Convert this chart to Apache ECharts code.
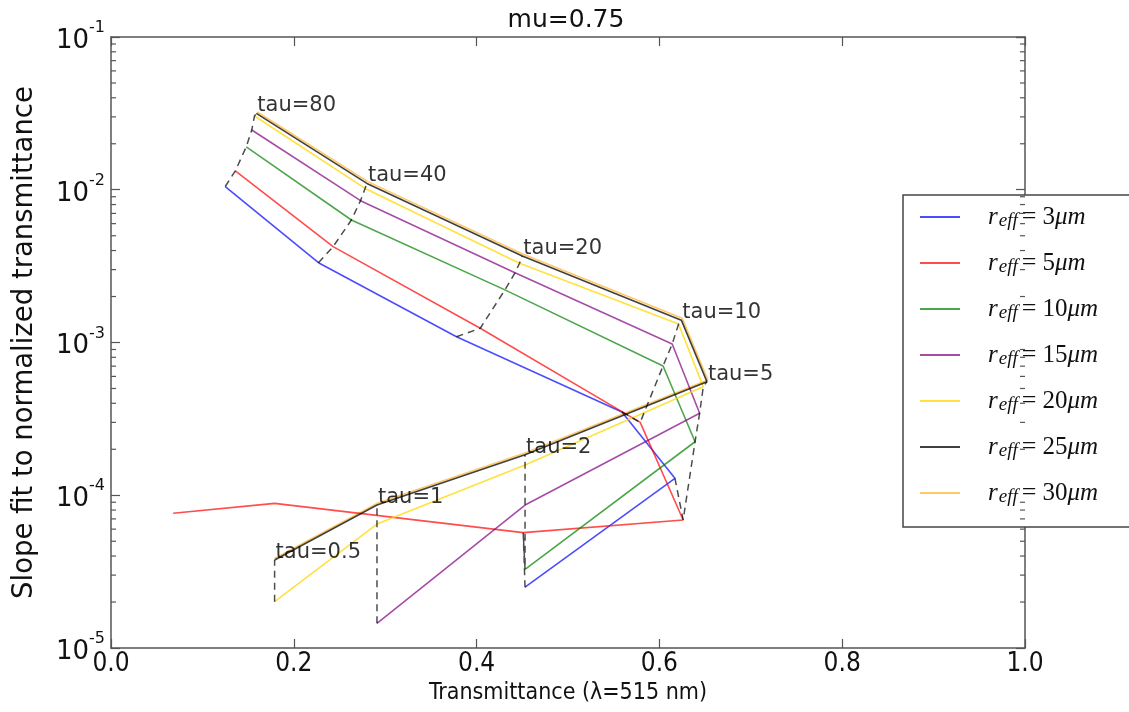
<!DOCTYPE html>
<html>
<head>
<meta charset="utf-8">
<script src="https://cdn.jsdelivr.net/npm/echarts@6/dist/echarts.min.js"></script>
<style>html,body{margin:0;padding:0;background:#fff}#c{width:1129px;height:712px}</style>
</head>
<body>
<div id="c"></div>
<script>
// ---- data ----
const titleText = 'mu=0.75';
const xName = 'Transmittance (\u03bb=515 nm)';
const yName = 'Slope fit to normalized transmittance';
const reffNames = ['3', '5', '10', '15', '20', '25', '30'];
const tauLevels = [0.5, 1, 2, 5, 10, 20, 40, 80];

const tau3 = [2, 5, 10, 20, 40, 80];
const x3 = [0.453, 0.617, 0.559, 0.378, 0.227, 0.125];
const y3 = [2.50e-5, 1.29e-4, 3.51e-4, 1.09e-3, 3.33e-3, 1.05e-2];

const tau5 = [null, null, 2, 5, 10, 20, 40, 80];
const x5 = [0.068, 0.179, 0.451, 0.626, 0.579, 0.404, 0.243, 0.136];
const y5 = [7.62e-5, 8.85e-5, 5.69e-5, 6.89e-5, 3.00e-4, 1.24e-3, 4.24e-3, 1.33e-2];

const tau10 = [2, 5, 10, 20, 40, 80];
const x10 = [0.453, 0.639, 0.604, 0.431, 0.263, 0.148];
const y10 = [3.27e-5, 2.24e-4, 7.02e-4, 2.21e-3, 6.34e-3, 1.91e-2];

const tau15 = [1, 2, 5, 10, 20, 40, 80];
const x15 = [0.291, 0.453, 0.644, 0.614, 0.442, 0.273, 0.154];
const y15 = [1.45e-5, 8.63e-5, 3.44e-4, 9.77e-4, 2.86e-3, 8.48e-3, 2.46e-2];

const tau20 = [0.5, 1, 2, 5, 10, 20, 40, 80];
const x20 = [0.179, 0.291, 0.453, 0.648, 0.621, 0.447, 0.278, 0.157];
const y20 = [2.01e-5, 6.48e-5, 1.58e-4, 5.14e-4, 1.32e-3, 3.30e-3, 1.02e-2, 3.04e-2];

const tau25 = [0.5, 1, 2, 5, 10, 20, 40, 80];
const x25 = [0.179, 0.291, 0.453, 0.652, 0.624, 0.450, 0.280, 0.159];
const y25 = [3.77e-5, 8.63e-5, 1.84e-4, 5.54e-4, 1.40e-3, 3.68e-3, 1.10e-2, 3.16e-2];

const tau30 = [0.5, 1, 2, 5, 10, 20, 40, 80];
const x30 = [0.179, 0.291, 0.453, 0.653, 0.625, 0.451, 0.281, 0.160];
const y30 = [3.85e-5, 8.85e-5, 1.89e-4, 5.68e-4, 1.44e-3, 3.78e-3, 1.13e-2, 3.23e-2];

const minorMultipliers = [2, 3, 4, 5, 6, 7, 8, 9];
const minorDecades = [1e-5, 1e-4, 1e-3, 1e-2];

// ---- styling ----
const colors = ['rgba(0,0,255,0.7)', 'rgba(255,0,0,0.7)', 'rgba(0,128,0,0.7)', 'rgba(128,0,128,0.7)',
                'rgba(255,215,0,0.75)', 'rgba(0,0,0,0.75)', 'rgba(255,165,0,0.6)'];
const frameColor = '#555';

const curves = [
  {tau: tau3, x: x3, y: y3},
  {tau: tau5, x: x5, y: y5},
  {tau: tau10, x: x10, y: y10},
  {tau: tau15, x: x15, y: y15},
  {tau: tau20, x: x20, y: y20},
  {tau: tau25, x: x25, y: y25},
  {tau: tau30, x: x30, y: y30}
];

const series = [];
curves.forEach((c, i) => {
  series.push({
    name: reffNames[i],
    type: 'line',
    data: c.x.map((xv, j) => [xv, c.y[j]]),
    showSymbol: false,
    symbol: 'none',
    lineStyle: {color: colors[i], width: 1.6},
    itemStyle: {color: colors[i]},
    z: i === 6 ? 1 : 2 + i,
    animation: false
  });
});

// dashed iso-tau lines joining curves (3..25 um)
tauLevels.forEach(t => {
  const pts = [];
  for (let i = 0; i < 6; i++) {
    const k = curves[i].tau.indexOf(t);
    if (k >= 0) pts.push([curves[i].x[k], curves[i].y[k]]);
  }
  series.push({
    type: 'line', data: pts, showSymbol: false, symbol: 'none', silent: true,
    lineStyle: {color: 'rgba(0,0,0,0.7)', width: 1.5, type: [7, 5]}, z: 10, animation: false
  });
});

// tau labels on the 25 um curve
series.push({
  type: 'scatter', symbolSize: 0, silent: true, z: 20, animation: false,
  data: tau25.map((t, j) => [x25[j], y25[j]]),
  label: {
    show: true, position: [1, 3], align: 'left', verticalAlign: 'bottom',
    formatter: p => 'tau=' + tau25[p.dataIndex],
    fontFamily: 'DejaVu Sans', fontSize: 21, color: '#000'
  }
});

// log minor ticks on left and right spines
const minorVals = [];
minorDecades.forEach(d => minorMultipliers.forEach(m => minorVals.push([0, m * d])));
series.push({
  type: 'custom', silent: true, z: 30, animation: false, clip: false,
  data: minorVals,
  renderItem: (params, api) => {
    const v = api.value(1);
    const a = api.coord([0, v]);
    const b = api.coord([1, v]);
    return {
      type: 'group',
      children: [
        {type: 'line', shape: {x1: a[0], y1: a[1], x2: a[0] + 5, y2: a[1]}, style: {stroke: frameColor, lineWidth: 1.2}},
        {type: 'line', shape: {x1: b[0], y1: b[1], x2: b[0] - 5, y2: b[1]}, style: {stroke: frameColor, lineWidth: 1.2}}
      ]
    };
  }
});

const chart = echarts.init(document.getElementById('c'), null, {renderer: 'canvas'});
const axisLine = {show: true, onZero: false, lineStyle: {color: frameColor, width: 1.5}};
const tick = {show: true, inside: true, length: 9, lineStyle: {color: frameColor, width: 1.2}};
const serif = 'Liberation Serif';
chart.setOption({
  animation: false,
  backgroundColor: '#fff',
  title: {
    text: titleText, left: 561, top: 3, textAlign: 'center',
    textStyle: {fontFamily: 'DejaVu Sans', fontSize: 25, fontWeight: 'normal', color: '#111'}
  },
  grid: {left: 111, right: 104, top: 37, bottom: 64, containLabel: false},
  legend: {
    orient: 'vertical', left: 903, top: 195,
    data: reffNames,
    icon: 'rect',
    itemWidth: 40, itemHeight: 2, itemGap: 20,
    padding: [9, 40, 21, 17],
    borderColor: '#444', borderWidth: 1.5, backgroundColor: '#fff',
    formatter: n => '{r0|r}{s|eff}{q|=}{n|' + n + '}{r|\u03bcm}',
    textStyle: {
      color: '#111',
      rich: {
        r0: {fontFamily: serif, fontStyle: 'italic', fontSize: 25, padding: [0, 0, 0, 23], lineHeight: 26},
        r: {fontFamily: serif, fontStyle: 'italic', fontSize: 25, lineHeight: 26},
        s: {fontFamily: serif, fontStyle: 'italic', fontSize: 19, verticalAlign: 'bottom', lineHeight: 10, padding: [0, 4, 0, 1]},
        q: {fontFamily: serif, fontSize: 26, lineHeight: 26, padding: [0, 6, 0, 0]},
        n: {fontFamily: serif, fontSize: 25, lineHeight: 26}
      }
    }
  },
  xAxis: [{
    type: 'value', min: 0, max: 1, interval: 0.2, position: 'bottom',
    axisLine, axisTick: tick, splitLine: {show: false},
    axisLabel: {formatter: v => v.toFixed(1), fontFamily: 'DejaVu Sans Condensed, DejaVu Sans', fontSize: 26, color: '#111', margin: 3},
    name: xName, nameLocation: 'middle', nameGap: 29,
    nameTextStyle: {fontFamily: 'DejaVu Sans Condensed, DejaVu Sans', fontSize: 23, color: '#111'}
  }, {
    type: 'value', min: 0, max: 1, interval: 0.2, position: 'top',
    axisLine, axisTick: tick, splitLine: {show: false}, axisLabel: {show: false}
  }],
  yAxis: [{
    type: 'log', logBase: 10, min: 1e-5, max: 1e-1, position: 'left',
    axisLine, axisTick: tick, splitLine: {show: false}, minorTick: {show: false},
    axisLabel: {
      margin: 6,
      formatter: v => '{b|10}{s|' + Math.round(Math.log10(v)) + '}',
      rich: {
        b: {fontFamily: 'DejaVu Sans', fontSize: 26, color: '#111', lineHeight: 34, verticalAlign: 'bottom'},
        s: {fontFamily: 'DejaVu Sans', fontSize: 16, color: '#111', verticalAlign: 'top', lineHeight: 18}
      }
    },
    name: yName, nameLocation: 'middle', nameGap: 72,
    nameTextStyle: {fontFamily: 'DejaVu Sans', fontSize: 27.5, color: '#111'}
  }, {
    type: 'log', logBase: 10, min: 1e-5, max: 1e-1, position: 'right',
    axisLine, axisTick: tick, splitLine: {show: false}, axisLabel: {show: false}
  }],
  series
});
</script>
</body>
</html>
